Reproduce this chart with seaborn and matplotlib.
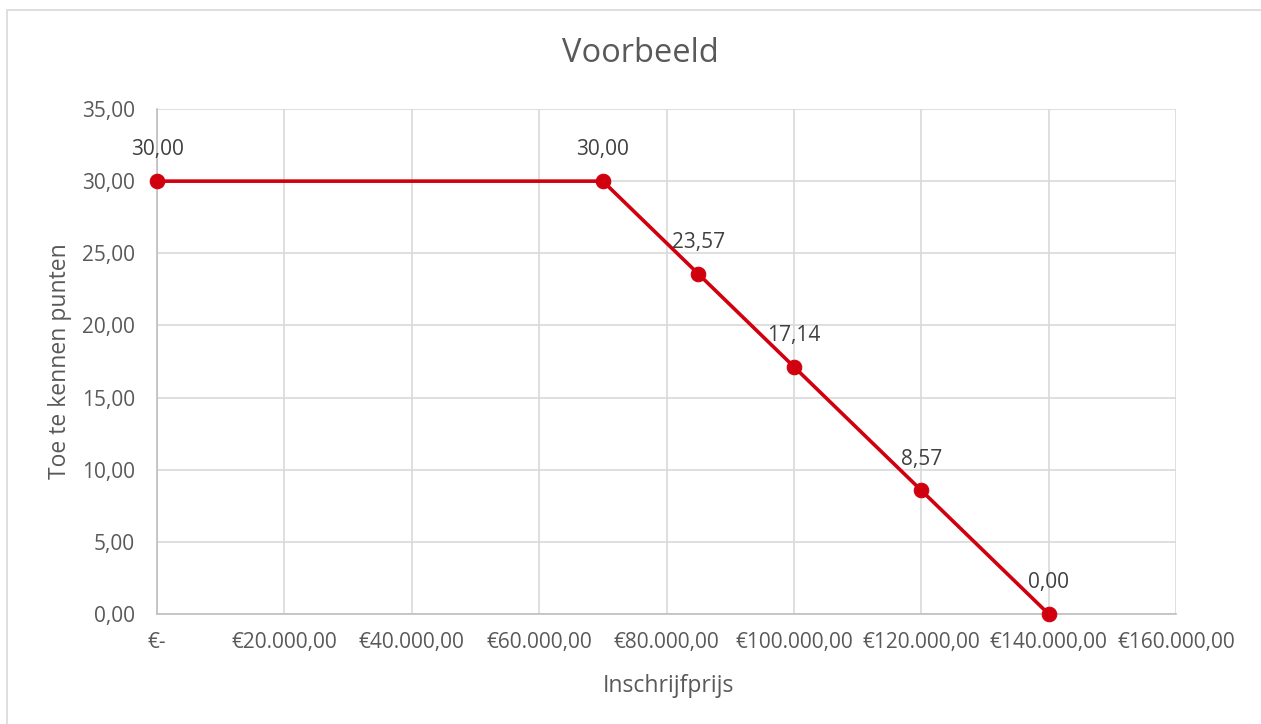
import matplotlib.pyplot as plt
import matplotlib.ticker as mticker
from matplotlib.patches import Rectangle
import pandas as pd
import seaborn as sns

# data
prijs = [0, 70000, 85000, 100000, 120000, 140000]
punten = [30.00, 30.00, 23.57, 17.14, 8.57, 0.00]
x_ticks = [0, 20000, 40000, 60000, 80000, 100000, 120000, 140000, 160000]
y_ticks = [0, 5, 10, 15, 20, 25, 30, 35]

df = pd.DataFrame({"Inschrijfprijs": prijs, "Punten": punten})

sns.set_style("white")
plt.rcParams["font.family"] = ["Open Sans", "DejaVu Sans"]

red = "#D0000F"
grid_c = "#D9D9D9"
txt = "#595959"

fig = plt.figure(figsize=(12.61, 7.24), dpi=100)
ax = fig.add_axes([157 / 1261, 110 / 724, (1176 - 157) / 1261, (614 - 109) / 724])

# outer chart border like Excel
fig.patches.append(Rectangle((7 / 1261, -0.01), 1.02, 1 - 10 / 724 + 0.01,
                             transform=fig.transFigure, fill=False,
                             edgecolor=grid_c, linewidth=1.2))

sns.lineplot(data=df, x="Inschrijfprijs", y="Punten", ax=ax, color=red,
             linewidth=2.6, marker="o", markersize=10.5, markeredgecolor=red,
             zorder=3, clip_on=False)

for xv, yv in zip(prijs, punten):
    ax.annotate(f"{yv:.2f}".replace(".", ","), (xv, yv), xytext=(0, 15),
                textcoords="offset points", ha="center", va="bottom",
                fontsize=15, color="#404040")

ax.set_xlim(0, 160000)
ax.set_ylim(0, 35)
ax.set_xticks(x_ticks)
ax.set_yticks(y_ticks)


def euro(v, pos):
    if v == 0:
        return "€-"
    s = f"{v:,.2f}".replace(",", "X").replace(".", ",").replace("X", ".")
    return "€" + s


ax.xaxis.set_major_formatter(mticker.FuncFormatter(euro))
ax.yaxis.set_major_formatter(mticker.FuncFormatter(lambda v, p: f"{v:.2f}".replace(".", ",")))

ax.grid(True, color=grid_c, linewidth=1.2)
for side in ["top", "right"]:
    ax.spines[side].set_visible(False)
for side in ["left", "bottom"]:
    ax.spines[side].set_color("#BFBFBF")
    ax.spines[side].set_linewidth(1.2)
ax.tick_params(axis="both", length=0, labelsize=15, colors=txt)
ax.tick_params(axis="x", pad=13)
ax.tick_params(axis="y", pad=16)

ax.set_xlabel("Inschrijfprijs", fontsize=16.5, color=txt)
ax.set_ylabel("Toe te kennen punten", fontsize=16.5, color=txt, labelpad=7)
ax.xaxis.set_label_coords((668 - 157) / (1176 - 157), -(674 - 614) / (614 - 109))
fig.text(640 / 1261, 1 - 54 / 724, "Voorbeeld", fontsize=23.5, color=txt,
         ha="center", va="center")

fig.savefig("out.png", dpi=100)
